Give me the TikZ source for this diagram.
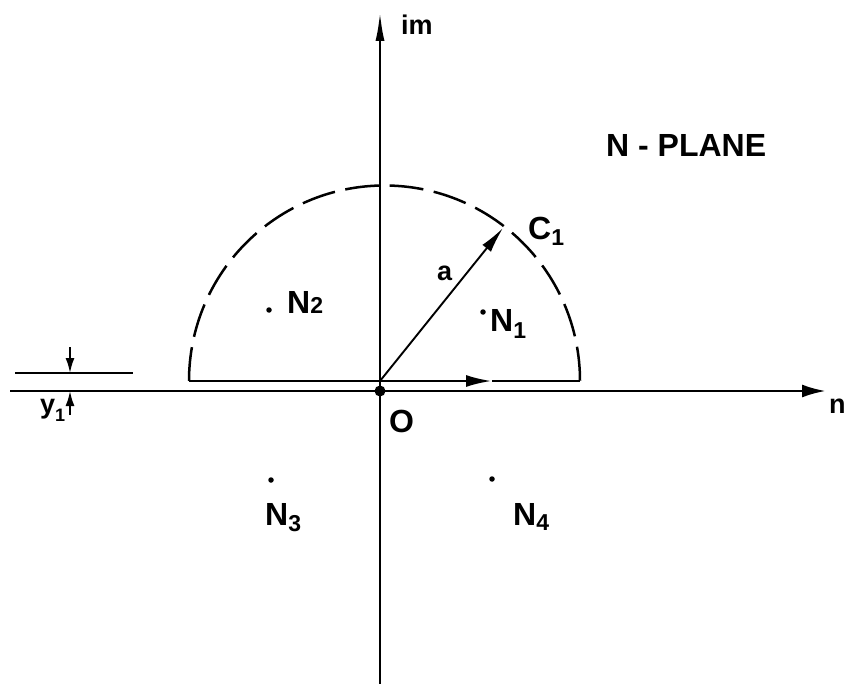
\documentclass[tikz,border=0pt]{standalone}
\usepackage{fontspec}
\setmainfont{Liberation Sans}
\usetikzlibrary{arrows.meta}
\newcommand\lowsub[2]{\raisebox{#1}{\fontsize{23}{23}\selectfont #2}}
\newcommand\tinysub[2]{\raisebox{#1}{\fontsize{18}{18}\selectfont #2}}
\begin{document}
\begin{tikzpicture}[x=1pt,y=-1pt,
  axis/.style={line width=2.8pt},
  thin/.style={line width=1.8pt},
  lbl/.style={font=\fontsize{32}{34}\selectfont\bfseries, inner sep=0pt, anchor=base west},
  smlbl/.style={font=\fontsize{27}{29}\selectfont\bfseries, inner sep=0pt, anchor=base west},
  dotmark/.style={circle, fill, inner sep=0pt, minimum size=5.5pt},
  bigtip/.style={-{Latex[length=24pt,width=13pt]}},
  midtip/.style={-{Latex[length=26pt,width=12pt]}},
  slimtip/.style={-{Latex[length=30pt,width=9pt]}},
  smalltip/.style={-{Latex[length=15pt,width=9pt]}}]
\useasboundingbox (0,0) rectangle (845,684);
\fill[white] (0,0) rectangle (845,684);

% axes
\coordinate (xl) at (10,391);
\coordinate (xr) at (826,391);
\coordinate (yb) at (380,684);
\coordinate (yt) at (380,11);
\draw[axis,bigtip] (xl) -- (xr);
\draw[axis,slimtip] (yb) -- (yt);
\node[circle, fill, inner sep=0pt, minimum size=11pt] (O) at (380,391) {};

% diameter with arrow
\coordinate (dl) at (189,381);
\coordinate (dc) at (380,381);
\coordinate (dm) at (492,381);
\coordinate (dr) at (580,381);
\draw[axis] (dl) -- (dc);
\draw[axis,midtip] (dc) -- (dm);
\draw[axis] (dm) -- (dr);

% dashed semicircle
\draw[line width=2.5pt, dash pattern=on 34pt off 10.6pt]
  (dl) arc[start angle=180, end angle=360, radius=195.5];

% radius vector
\coordinate (c1) at (503,228);
\draw[line width=1.9pt,-{Latex[length=26pt,width=11pt]}] (dc) -- (c1);

% dots
\node[dotmark] (d1) at (483,312) {};
\node[dotmark] (d2) at (269,310) {};
\node[dotmark] (d3) at (271,480) {};
\node[dotmark] (d4) at (492,479) {};

% labels
\node[lbl] (t1) at (490,331) {N\lowsub{-7pt}{1}};
\node[lbl] (t2) at (287,313) {N\lowsub{0pt}{2}};
\node[lbl] (t3) at (265,525) {N\lowsub{-6pt}{3}};
\node[lbl] (t4) at (513,525) {N\lowsub{-5pt}{4}};
\node[lbl] (tc) at (528,240) {C\lowsub{-6pt}{1}};
\node[lbl] (tp) at (606,157) {N - PLANE};
\node[smlbl] (ta) at (437,281) {a};
\node[lbl] (to) at (389,432) {O};
\node[smlbl] (tim) at (401,35) {im};
\node[smlbl] (tn) at (829,413) {n};
\node[smlbl] (ty) at (40,413) {y\tinysub{-8pt}{1}};

% y1 dimension
\coordinate (ul) at (15,373);
\coordinate (ur) at (133,373);
\draw[thin] (ul) -- (ur);
\coordinate (a1s) at (70,347);
\coordinate (a1e) at (70,373);
\coordinate (a2s) at (70,415);
\coordinate (a2e) at (70,391);
\draw[thin,smalltip] (a1s) -- (a1e);
\draw[thin,smalltip] (a2s) -- (a2e);
\end{tikzpicture}
\end{document}
